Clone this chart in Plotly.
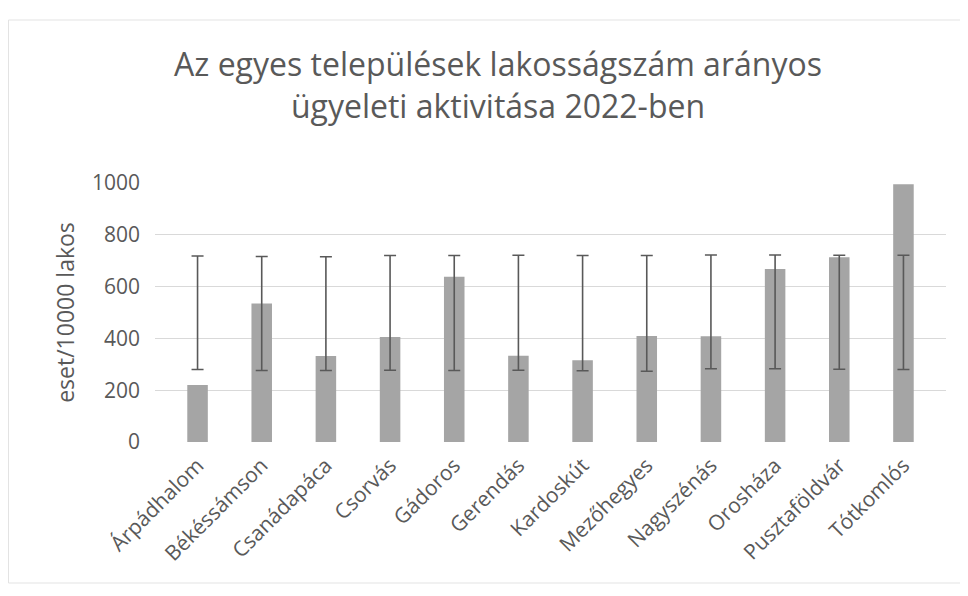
import plotly.graph_objects as go

categories = ["Árpádhalom", "Békéssámson", "Csanádapáca", "Csorvás", "Gádoros",
              "Gerendás", "Kardoskút", "Mezőhegyes", "Nagyszénás", "Orosháza",
              "Pusztaföldvár", "Tótkomlós"]
values = [220, 535, 332, 405, 638, 333, 316, 409, 408, 668, 713, 995]
upper = [718, 716, 715, 720, 720, 721, 720, 720, 722, 722, 721, 721]
lower = [280, 276, 276, 277, 276, 277, 275, 273, 283, 283, 281, 280]
y_ticks = [0, 200, 400, 600, 800, 1000]

FONT = "Open Sans, Calibri, Carlito, sans-serif"
TXT = "#595959"

mid = [(u + l) / 2 for u, l in zip(upper, lower)]
half = [(u - l) / 2 for u, l in zip(upper, lower)]

fig = go.Figure()
fig.add_trace(go.Bar(x=categories, y=values, marker=dict(color="#a5a5a5", line=dict(width=0)),
                     showlegend=False, hoverinfo="x+y"))
fig.add_trace(go.Scatter(x=categories, y=mid, mode="markers",
                         marker=dict(size=1, color="rgba(0,0,0,0)"),
                         error_y=dict(type="data", array=half, symmetric=True,
                                      color="#595959", thickness=1.6, width=6),
                         showlegend=False, hoverinfo="skip"))

# page body has an 8px margin, so figure coords are shifted by 8px from the screen
L, R, T, B = 147, 30, 175, 162
W, H = 968, 596
pw, ph = W - L - R, H - T - B

fig.update_layout(
    width=W, height=H,
    margin=dict(l=L, r=R, t=T, b=B),
    paper_bgcolor="white", plot_bgcolor="white",
    bargap=0.68,
    font=dict(family=FONT, color=TXT),
    title=dict(text="Az egyes települések lakosságszám arányos<br>ügyeleti aktivitása 2022-ben",
               xref="container", x=(498 - 8) / W, xanchor="center",
               yref="container", y=1 - 68 / H, yanchor="middle",
               font=dict(family=FONT, size=32, color=TXT)),
    xaxis=dict(tickangle=-45, tickfont=dict(size=21, color=TXT), showgrid=False,
               showline=False, ticks="", ticklabelstandoff=6),
    yaxis=dict(range=[0, 1000], tickvals=y_ticks, tickfont=dict(size=21, color=TXT),
               showgrid=True, gridcolor="#d9d9d9", gridwidth=1, zeroline=False,
               showline=False, ticks="", ticklabelstandoff=14,
               title=dict(text="eset/10000 lakos", font=dict(size=23, color=TXT), standoff=10)),
    shapes=[dict(type="rect", xref="paper", yref="paper",
                 x0=(0.5 - L) / pw, x1=1.1, y0=(H - B - 575) / ph, y1=(H - B - 12) / ph,
                 line=dict(color="#e3e3e3", width=1), fillcolor="rgba(0,0,0,0)", layer="below")],
)

fig.write_html("out.html")
